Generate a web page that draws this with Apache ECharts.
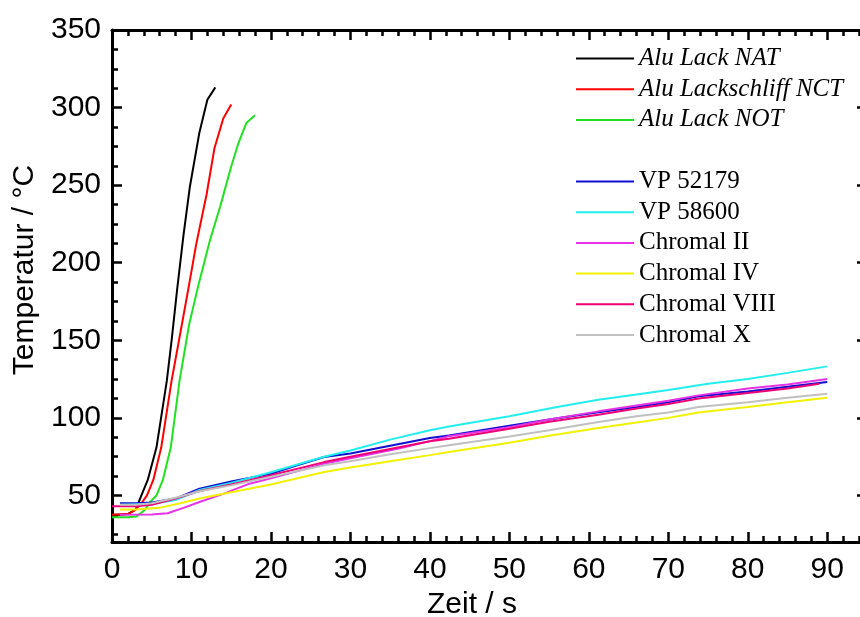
<!DOCTYPE html>
<html>
<head>
<meta charset="utf-8">
<script src="https://cdn.jsdelivr.net/npm/echarts@6/dist/echarts.min.js"></script>
<style>html,body{margin:0;padding:0;background:#fff}#c{width:860px;height:617px}</style>
</head>
<body>
<div id="c"></div>
<script>
// ---- data (time s, temperature °C) ----
const aluLackNAT = [[0,37.5],[1,37.5],[2,38],[3,41],[3.7,50],[4.5,60],[5.6,81],[6.9,124],[7.5,150],[8.2,183],[9,218],[9.8,249],[11,284],[12,305],[13,313]];
const aluLackschliffNCT = [[0,37.5],[2,38],[2.9,40.5],[3.7,45],[4.4,50],[5.2,60],[6.2,81],[7.5,124],[8.5,152],[9.6,183],[10.6,212],[11.9,244],[12.9,274],[14,293],[15,302]];
const aluLackNOT = [[0,36],[1,36],[2,36],[3.1,36.5],[4.1,40.5],[4.8,46],[5.6,50],[6.4,60],[7.4,81],[8.5,124],[9.7,160],[10.75,183],[12.3,214],[13.6,236],[15,262],[15.9,277],[16.9,290],[18,295]];
const vp52179 = [[1,45],[3,45],[5,45.5],[8,48],[11,54.4],[15,59],[20,64],[23,69],[26.7,74.8],[30,77],[35,82],[40,87],[42.4,88.7],[50,95],[55,99],[61.2,103.6],[66,107],[70,110],[73.8,114],[80,117],[85,120],[90,123.1]];
const vp58600 = [[1,44],[5,44.5],[8,47],[11,53.5],[15,58],[20,65],[23,69.5],[26.7,75],[30,79],[35,86],[40,92],[42.4,94.5],[50,101],[56,107],[61.2,111.7],[66,115],[70,118],[75,122],[80,125],[85,129],[90,133.2]];
const chromalII = [[1,37.5],[5,37.8],[7,38.5],[9,42],[11,45.8],[14,51],[17.3,57.6],[20,61],[23.6,66],[26.7,70.5],[30,74],[36.1,80.2],[40,85],[42.4,88.1],[50,94],[55,99],[61.2,104.2],[66,108],[70,111],[73.8,114.5],[80,119],[85,121.5],[90,125]];
const chromalIV = [[1,41],[3,41],[6,42],[9,45.5],[11,48],[15,52],[20,57],[26.7,65.1],[30,68],[35,72],[40,76],[42.4,78],[50,84],[55,88.5],[61.2,93.5],[66,97],[70,100],[73.8,103.5],[80,107],[85,110],[90,113]];
const chromalVIII = [[0,43],[3,43],[5,44],[8,48],[11,52.9],[15,57],[20,63],[26.7,71.5],[30,75],[35,80],[40,85],[42.4,86.6],[50,93],[55,97.5],[61.2,102],[66,106],[70,109],[73.8,112.5],[80,116],[85,119],[89,122]];
const chromalX = [[1,44],[3,44],[5,45],[8,48.5],[11,52.7],[15,56.5],[20,62],[26.7,69.4],[30,72],[35,76.5],[40,80.5],[42.4,82.3],[50,88],[55,92],[61.2,97.3],[66,101],[70,103.5],[73.8,107],[80,110],[85,113],[90,115.6]];

const seriesNames = ['Alu Lack NAT','Alu Lackschliff NCT','Alu Lack NOT','VP 52179','VP 58600','Chromal II','Chromal IV','Chromal VIII','Chromal X'];
const seriesColors = ['#000000','#ff0000','#22e022','#1010d0','#22eeee','#e633e6','#f2f200','#ee0077','#c0c0c0'];
const seriesData = [aluLackNAT,aluLackschliffNCT,aluLackNOT,vp52179,vp58600,chromalII,chromalIV,chromalVIII,chromalX];

const xMajor = [0,10,20,30,40,50,60,70,80,90];
const xMinor = [2,4,6,8,12,14,16,18,22,24,26,28,32,34,36,38,42,44,46,48,52,54,56,58,62,64,66,68,72,74,76,78,82,84,86,88,92,94];
const yMajor = [50,100,150,200,250,300,350];
const yMinor = [25,37.5,62.5,75,87.5,112.5,125,137.5,162.5,175,187.5,212.5,225,237.5,262.5,275,287.5,312.5,325,337.5];

const X_MIN = 0, X_MAX = 95, Y_MIN = 20, Y_MAX = 350;
const FONT = 'Liberation Sans';

function xAx(pos, vals, len, labels, line){
  return {
    type:'value', position:pos, min:X_MIN, max:X_MAX,
    axisLine:{show:line, onZero:false, lineStyle:{color:'#000', width:3}},
    axisTick:{show:true, inside:true, length:len, customValues:vals, lineStyle:{color:'#000', width:2.5}},
    axisLabel:{show:labels, customValues:xMajor, fontFamily:FONT, fontSize:30, color:'#000', margin:13},
    splitLine:{show:false}
  };
}
function yAx(pos, vals, len, labels, line){
  return {
    type:'value', position:pos, min:Y_MIN, max:Y_MAX,
    axisLine:{show:line, onZero:false, lineStyle:{color:'#000', width:3}},
    axisTick:{show:true, inside:true, length:len, customValues:vals, lineStyle:{color:'#000', width:2.5}},
    axisLabel:{show:labels, customValues:yMajor, fontFamily:FONT, fontSize:30, color:'#000', margin:11},
    splitLine:{show:false}
  };
}

const xAxes = [
  xAx('bottom', xMajor, 10, true, true),
  xAx('bottom', xMinor, 6, false, false),
  xAx('top', xMajor, 10, false, true),
  xAx('top', xMinor, 6, false, false)
];
Object.assign(xAxes[0], {name:'Zeit / s', nameLocation:'middle', nameGap:48,
  nameTextStyle:{fontFamily:FONT, fontSize:30, color:'#000', padding:[0,35,0,0]}});
const yAxes = [
  yAx('left', yMajor, 10, true, true),
  yAx('left', yMinor, 6, false, false),
  yAx('right', yMajor, 10, false, true),
  yAx('right', yMinor, 6, false, false)
];
Object.assign(yAxes[0], {name:'Temperatur / °C', nameLocation:'middle', nameGap:61,
  nameTextStyle:{fontFamily:FONT, fontSize:30, color:'#000', padding:[0,0,0,32]}});

const series = seriesNames.map((n,i)=>({
  name:n, type:'line', data:seriesData[i], xAxisIndex:0, yAxisIndex:0,
  symbol:'none', smooth:false, animation:false,
  lineStyle:{color:seriesColors[i], width:2}, itemStyle:{color:seriesColors[i]}
}));

const legendCommon = {orient:'vertical', left:576, padding:0, icon:'rect', itemWidth:58, itemHeight:2, itemGap:5.7, selectedMode:false};
const option = {
  animation:false,
  backgroundColor:'#fff',
  grid:{left:112, top:30, bottom:75, width:755, containLabel:false, outerBoundsMode:'none'},
  xAxis:xAxes, yAxis:yAxes,
  legend:[
    Object.assign({}, legendCommon, {top:46, data:seriesNames.slice(0,3),
      textStyle:{fontFamily:'Liberation Serif', fontStyle:'italic', fontSize:25, lineHeight:25, color:'#000'}}),
    Object.assign({}, legendCommon, {top:169, data:seriesNames.slice(3),
      textStyle:{fontFamily:'Liberation Serif', fontSize:25, lineHeight:25, color:'#000'}})
  ],
  series:series
};
const chart = echarts.init(document.getElementById('c'), null, {renderer:'canvas'});
chart.setOption(option);
</script>
</body>
</html>
